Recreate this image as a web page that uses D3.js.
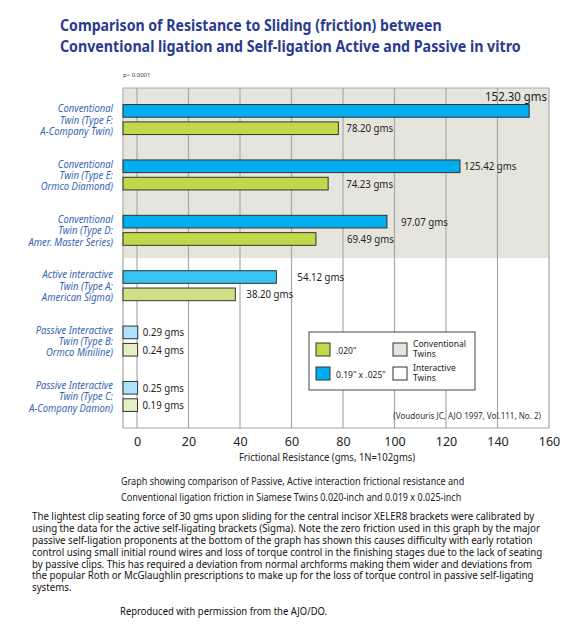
<!DOCTYPE html>
<html>
<head>
<meta charset="utf-8">
<script src="https://cdn.jsdelivr.net/npm/d3@7"></script>
<style>
  body { margin: 0; background: #fff; }
  svg { display: block; font-family: "Noto Sans", "DejaVu Sans", sans-serif; }
</style>
</head>
<body>
<div id="chart"></div>
<script>
// data
const groups = ["F", "E", "D", "A", "B", "C"];
const groupLabels = [
    ["Conventional", "Twin (Type F:", "A-Company Twin)"],
    ["Conventional", "Twin (Type E:", "Ormco Diamond)"],
    ["Conventional", "Twin (Type D:", "Amer. Master Series)"],
    ["Active interactive", "Twin (Type A:", "American Sigma)"],
    ["Passive Interactive", "Twin (Type B:", "Ormco Miniline)"],
    ["Passive Interactive", "Twin (Type C:", "A-Company Damon)"]
];
const groupType = ["conventional", "conventional", "conventional", "active", "passive", "passive"];
const wideWire = [152.30, 125.42, 97.07, 54.12, 0.29, 0.25];   // 0.19" x .025"
const roundWire = [78.20, 74.23, 69.49, 38.20, 0.24, 0.19];    // .020"
const xTicks = [0, 20, 40, 60, 80, 100, 120, 140, 160];

const titleLines = [
    "Comparison of Resistance to Sliding (friction) between",
    "Conventional ligation and Self-ligation Active and Passive in vitro"
];
const captionLines = [
    "Graph showing comparison of Passive, Active interaction frictional resistance and",
    "Conventional ligation friction in Siamese Twins 0.020-inch and 0.019 x 0.025-inch"
];
const noteLines = [
    "The lightest clip seating force of 30 gms upon sliding for the central incisor XELER8 brackets were calibrated by",
    "using the data for the active self-ligating brackets (Sigma).  Note the zero friction used in this graph by the major",
    "passive self-ligation proponents at the bottom of the graph has shown this causes difficulty with early rotation",
    "control using small initial round wires and loss of torque control in the finishing stages due to the lack of seating",
    "by passive clips.  This has required a deviation from normal archforms making them wider and deviations from",
    "the popular Roth or McGlaughlin prescriptions to make up for the loss of torque control in passive self-ligating",
    "systems."
];

// colours per bracket type
const fills = {
    conventional: {wide: "#00adee", round: "#c1d84b"},
    active: {wide: "#36c5f1", round: "#d0df85"},
    passive: {wide: "#aee2f8", round: "#e6efc2"}
};
// nudges of the value labels (px after the bar end), wide / round
const labelDx = [[8, 8], [4, 18], [14, 31], [21, 11], [5, 5], [5, 5]];

const W = 576, H = 627;
const plot = {left: 123, right: 549, top: 88, bottom: 428};

const svg = d3.select("#chart").append("svg")
    .attr("width", W)
    .attr("height", H);

// narrow the text horizontally (the original uses a condensed face)
function squeeze(sel, k) {
    sel.each(function () {
        const t = d3.select(this);
        const tx = +t.attr("x") || 0, ty = +t.attr("y") || 0;
        t.attr("x", 0).attr("y", 0)
            .attr("transform", "translate(" + tx + "," + ty + ") scale(" + k + ",1)");
    });
}

// squeeze to an exact width
function fitWidth(sel, w) {
    sel.each(function () {
        const k = w / this.getComputedTextLength();
        d3.select(this).call(squeeze, k);
    });
}

// one text element, several lines as tspans
function multiline(parent, lines, x, y, lh) {
    let t = parent.append("text")
        .attr("transform", "translate(" + x + "," + y + ")");
    t.selectAll("tspan")
        .data(lines)
        .enter()
        .append("tspan")
        .attr("x", 0)
        .attr("y", (d, j) => j * lh)
        .text(d => d);
    return t;
}

// title
svg.selectAll(".title")
    .data(titleLines)
    .enter()
    .append("text")
    .attr("class", "title")
    .attr("x", 60)
    .attr("y", (d, i) => 31 + i * 21)
    .attr("fill", "#2b3a8f")
    .attr("font-weight", "bold")
    .attr("font-size", 16.5)
    .text(d => d)
    .each(function (d, i) {
        d3.select(this).call(fitWidth, i === 0 ? 382 : 461);
    });

svg.append("text")
    .attr("x", plot.left)
    .attr("y", 77)
    .attr("font-size", 6)
    .attr("fill", "#333")
    .text("p< 0.0001");

// scales
let x = d3.scaleLinear()
    .domain([0, 160])
    .range([137, plot.right]);

let y = d3.scalePoint()
    .domain(groups)
    .range([plot.top, plot.bottom])
    .padding(0.57);

let ySub = d3.scaleBand()
    .domain(["wide", "round"])
    .range([-15, 15])
    .paddingInner(0.27);

// shaded band behind the conventional twins
const shadeBottom = (y("D") + y("A")) / 2;
svg.append("rect")
    .attr("x", plot.left)
    .attr("y", plot.top)
    .attr("width", plot.right - plot.left)
    .attr("height", shadeBottom - plot.top)
    .attr("fill", "#e5e5dd");

// grid lines
svg.selectAll(".grid")
    .data(xTicks)
    .enter()
    .append("line")
    .attr("x1", d => x(d))
    .attr("x2", d => x(d))
    .attr("y1", plot.top)
    .attr("y2", plot.bottom)
    .attr("stroke", "#a8a8a8")
    .attr("stroke-width", 1.2);

// frame
svg.append("line")
    .attr("x1", plot.left).attr("x2", plot.left)
    .attr("y1", plot.top).attr("y2", plot.bottom)
    .attr("stroke", "#c8c8c8").attr("stroke-width", 2);
svg.append("line")
    .attr("x1", plot.left).attr("x2", plot.right)
    .attr("y1", plot.top).attr("y2", plot.top)
    .attr("stroke", "#a8a8a8").attr("stroke-width", 1.2);

// x axis
let xAxis = svg.append("g")
    .attr("transform", "translate(0," + plot.bottom + ")")
    .call(d3.axisBottom(x).tickValues(xTicks).tickSize(0).tickPadding(9));
xAxis.select(".domain").remove();
xAxis.append("line")
    .attr("x1", plot.left).attr("x2", plot.right)
    .attr("stroke", "#a8a8a8").attr("stroke-width", 1.2);
xAxis.selectAll("text")
    .attr("font-family", "Noto Sans, sans-serif")
    .attr("font-size", 12.5)
    .attr("fill", "#222");

svg.append("text")
    .attr("x", 327)
    .attr("y", 461)
    .attr("text-anchor", "middle")
    .attr("font-size", 11)
    .attr("fill", "#222")
    .text("Frictional Resistance (gms, 1N=102gms)")
    .call(squeeze, 0.86);

// bars
let rows = [];
groups.forEach((g, i) => {
    rows.push({group: g, i: i, key: "wide", value: wideWire[i]});
    rows.push({group: g, i: i, key: "round", value: roundWire[i]});
});

svg.selectAll(".bar")
    .data(rows)
    .enter()
    .append("rect")
    .attr("class", "bar")
    .attr("x", plot.left)
    .attr("y", d => y(d.group) + ySub(d.key))
    .attr("width", d => x(d.value) - plot.left)
    .attr("height", ySub.bandwidth())
    .attr("fill", d => fills[groupType[d.i]][d.key])
    .attr("stroke", "#333")
    .attr("stroke-width", 1);

// value labels
svg.selectAll(".val")
    .data(rows)
    .enter()
    .append("text")
    .attr("class", "val")
    .each(function (d) {
        const t = d3.select(this);
        const cy = y(d.group) + ySub(d.key) + ySub.bandwidth() / 2;
        const dx = labelDx[d.i][d.key === "wide" ? 0 : 1];
        if (x(d.value) + dx + 50 > plot.right) {
            // no room after the bar: sit above it at the right edge
            t.attr("x", plot.right - 2)
                .attr("y", y(d.group) + ySub(d.key) - 4)
                .attr("text-anchor", "end")
                .attr("font-size", 13);
        } else {
            t.attr("x", x(d.value) + dx)
                .attr("y", cy + 4)
                .attr("font-size", 11);
        }
    })
    .attr("fill", "#222")
    .text(d => d.value.toFixed(2) + " gms")
    .call(squeeze, 0.88);

// category labels
groups.forEach((g, i) => {
    multiline(svg, groupLabels[i], 113, y(g) - 11.3 + 4, 11.3)
        .attr("text-anchor", "end")
        .attr("font-style", "italic")
        .attr("font-size", 11)
        .attr("fill", "#3566b4")
        .attr("transform", "translate(113," + (y(g) - 7.3) + ") scale(0.86,1)");
});

// legend
let legend = svg.append("g").attr("transform", "translate(309,332)");
legend.append("rect")
    .attr("width", 166).attr("height", 58)
    .attr("fill", "#fff").attr("stroke", "#444").attr("stroke-width", 1);

const legendItems = [
    {fill: fills.conventional.round, lines: ['.020"'], x: 7, y: 11},
    {fill: fills.conventional.wide, lines: ['0.19" x .025"'], x: 7, y: 35},
    {fill: "#e5e5dd", lines: ["Conventional", "Twins"], x: 84, y: 11},
    {fill: "#fff", lines: ["Interactive", "Twins"], x: 84, y: 35}
];
legendItems.forEach(it => {
    legend.append("rect")
        .attr("x", it.x).attr("y", it.y)
        .attr("width", 14).attr("height", 13)
        .attr("fill", it.fill).attr("stroke", "#333").attr("stroke-width", 1);
    const ty = it.lines.length === 1 ? it.y + 10.5 : it.y + 4;
    multiline(legend, it.lines, it.x + 20, ty, 10)
        .attr("font-size", 9.5)
        .attr("fill", "#222")
        .attr("transform", "translate(" + (it.x + 20) + "," + ty + ") scale(0.9,1)");
});

svg.append("text")
    .attr("x", 541)
    .attr("y", 419)
    .attr("text-anchor", "end")
    .attr("font-size", 9.5)
    .attr("fill", "#333")
    .text("(Voudouris JC, AJO 1997, Vol.111, No. 2)")
    .call(squeeze, 0.85);

// caption under the chart
multiline(svg, captionLines, 121, 485, 16)
    .attr("font-size", 10.5)
    .attr("fill", "#222")
    .attr("transform", "translate(121,485) scale(0.86,1)");

multiline(svg, noteLines, 32, 520, 11.9)
    .attr("font-size", 11.3)
    .attr("fill", "#111")
    .attr("transform", "translate(32,520) scale(0.86,1)");

svg.append("text")
    .attr("x", 120)
    .attr("y", 615)
    .attr("font-size", 11)
    .attr("fill", "#111")
    .text("Reproduced with permission from the AJO/DO.")
    .call(squeeze, 0.86);
</script>
</body>
</html>
